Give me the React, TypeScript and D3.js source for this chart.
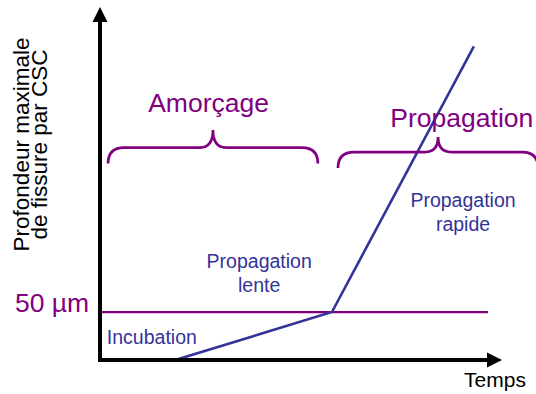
import React from 'react';
import * as d3 from 'd3';

// crack depth (µm) against time (arbitrary units)
const crackTime = [18.7, 57.7, 93.0];
const crackDepth = [0, 50, 327];

const thresholdDepth = 50;
const thresholdEnd = 96.5;
const thresholdLabel = '50 µm';

// phases shown with braces
const phaseNames = ['Amorçage', 'Propagation'];
const phaseStart = [2, 59.2];
const phaseEnd = [54.2, 109];
const braceDepth = [221.5, 216.8];
const phaseLabelTime = [27, 90];
const phaseLabelDepth = [258.5, 243];

// stage annotations (blue)
const stageLines = [['Incubation'], ['Propagation', 'lente'], ['Propagation', 'rapide']];
const stageTime = [1.7, 39.6, 90.3];
const stageDepth = [16.7, 95.6, 159.8];
const stageAnchor = ['start', 'middle', 'middle'];

const yTitle = ['Profondeur maximale', 'de fissure par CSC'];
const xTitle = 'Temps';

const W = 536;
const H = 394;
const PURPLE = '#800080';
const BLUE = '#333399';
const FONT = '"Liberation Sans", Arial, sans-serif';

const x = d3.scaleLinear().domain([0, 100]).range([100, 502]);
const y = d3.scaleLinear().domain([0, 368]).range([360, 7]);

// curly brace opening downward, tip pointing up
const bracePath = (x0: number, x1: number, yb: number, r: number, tip: number, tw: number) => {
    const xm = (x0 + x1) / 2;
    const p = d3.path();
    p.moveTo(x0, yb + r);
    p.quadraticCurveTo(x0, yb, x0 + r, yb);
    p.lineTo(xm - tw, yb);
    p.quadraticCurveTo(xm, yb, xm, yb - tip);
    p.quadraticCurveTo(xm, yb, xm + tw, yb);
    p.lineTo(x1 - r, yb);
    p.quadraticCurveTo(x1, yb, x1, yb + r);
    return p.toString();
};

export default function App() {
    const crack = d3.line<number>()
        .x((_, i) => x(crackTime[i]))
        .y((_, i) => y(crackDepth[i]))(crackDepth) as string;

    const x0 = x(0);
    const y0 = y(0);
    const xTip = x(100);
    const yTip = y(368);

    return (
        <svg width={W} height={H} style={{ position: 'absolute', left: 0, top: 0, background: '#fff' }}
            fontFamily={FONT}>
            {/* y axis title */}
            {yTitle.map((t, i) => (
                <text key={t} transform={`translate(${29 + i * 17.5},144.5) rotate(-90)`}
                    textAnchor="middle" fontSize={22.5} fill="#000">{t}</text>
            ))}

            {/* threshold */}
            <line x1={x0} x2={x(thresholdEnd)} y1={y(thresholdDepth)} y2={y(thresholdDepth)}
                stroke={PURPLE} strokeWidth={2.2} />
            <text x={15} y={y(thresholdDepth)} fontSize={26.5} fill={PURPLE}>{thresholdLabel}</text>

            {/* crack depth curve */}
            <path d={crack} fill="none" stroke={BLUE} strokeWidth={2.6} strokeLinejoin="miter" />

            {/* axes with arrows */}
            <path d={`M${x0},${y0 + 2}V${yTip + 14}`} stroke="#000" strokeWidth={4} />
            <path d={`M${x0 - 2},${y0}H${xTip - 14}`} stroke="#000" strokeWidth={4} />
            <path d={`M${x0},${yTip}L${x0 + 7.5},${yTip + 15}L${x0 - 7.5},${yTip + 15}Z`} fill="#000" />
            <path d={`M${xTip},${y0}L${xTip - 15},${y0 - 7.5}L${xTip - 15},${y0 + 7.5}Z`} fill="#000" />
            <text x={495} y={387} textAnchor="middle" fontSize={21} fill="#000">{xTitle}</text>

            {/* phase braces */}
            {phaseNames.map((name, i) => (
                <g key={name}>
                    <path d={bracePath(x(phaseStart[i]), x(phaseEnd[i]), y(braceDepth[i]), 16, i === 0 ? 17.5 : 15, 13)}
                        fill="none" stroke={PURPLE} strokeWidth={2.7} />
                    <text x={x(phaseLabelTime[i])} y={y(phaseLabelDepth[i])} textAnchor="middle"
                        fontSize={26.5} fill={PURPLE}>{name}</text>
                </g>
            ))}

            {/* stage labels */}
            {stageLines.map((lines, i) => (
                <text key={i} x={x(stageTime[i])} y={y(stageDepth[i])} textAnchor={stageAnchor[i]}
                    fontSize={19.5} fill={BLUE}>
                    {lines.map((l, j) => (
                        <tspan key={j} x={x(stageTime[i])} dy={j === 0 ? 0 : 24}>{l}</tspan>
                    ))}
                </text>
            ))}
        </svg>
    );
}
